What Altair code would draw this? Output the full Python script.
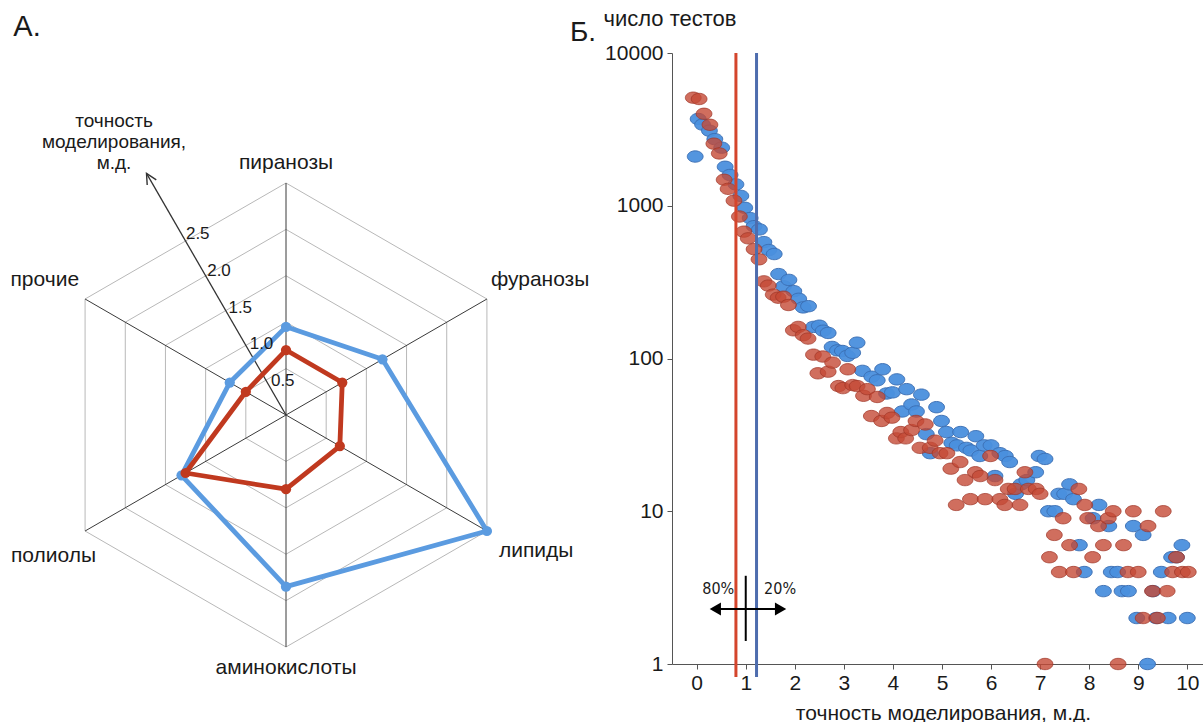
import math
import altair as alt
import pandas as pd

FONT = "Liberation Sans, Arial, sans-serif"
NARROW = "Liberation Sans Narrow, DejaVu Sans Condensed, Liberation Sans, sans-serif"
TEXT = "#1a1a1a"

# ---------------- panel A: radar of modelling accuracy ----------------
categories = ["пиранозы", "фуранозы", "липиды", "аминокислоты", "полиолы", "прочие"]
angles_deg = [90, 30, -30, -90, -150, 150]
blue_radar = [0.95, 1.2, 2.5, 1.85, 1.3, 0.7]
red_radar = [0.7, 0.7, 0.67, 0.8, 1.25, 0.5]
ring_levels = [0.5, 1.0, 1.5, 2.0, 2.5]
radial_labels = ["0.5", "1.0", "1.5", "2.0", "2.5"]
radial_axis_title = ["точность", "моделирования,", "м.д."]

# label placement around the outer ring: (align, dx px, dy px)
cat_label_style = [("center", 0, -20), ("left", 4, -19), ("left", 12, 20),
                   ("center", 0, 21), ("right", 11, 25), ("right", -6, -19)]

# ---------------- panel B: histogram of errors ----------------
blue_points = [
    (-0.03, 2100), (0.03, 3700), (0.12, 3400), (0.26, 3100), (0.37, 2730), (0.51, 2400),
    (0.58, 1800), (0.68, 1590), (0.80, 1380), (0.90, 1160), (0.98, 970), (1.09, 830),
    (1.17, 735), (1.28, 700), (1.37, 578), (1.47, 513), (1.58, 483), (1.67, 357),
    (1.77, 297), (1.88, 327), (1.98, 276), (2.08, 246), (2.17, 216), (2.28, 220),
    (2.38, 161), (2.50, 164), (2.58, 152), (2.68, 147), (2.76, 119), (2.87, 113),
    (2.97, 112), (3.07, 104), (3.18, 109), (3.27, 127), (3.38, 83), (3.57, 76),
    (3.68, 72), (3.79, 85), (3.87, 59), (3.99, 60), (4.08, 73), (4.19, 45),
    (4.28, 63), (4.38, 50), (4.48, 45), (4.58, 58), (4.68, 32), (4.76, 24),
    (4.89, 48), (4.99, 39), (5.09, 33), (5.20, 28), (5.31, 27), (5.38, 33),
    (5.50, 26), (5.59, 25), (5.69, 31), (5.77, 23), (5.86, 27), (6.00, 27),
    (6.08, 17), (6.18, 24), (6.29, 23), (6.38, 21), (6.50, 13), (6.61, 15),
    (6.73, 16), (6.91, 18), (6.98, 23), (7.10, 22), (7.17, 10), (7.30, 10),
    (7.38, 13), (7.50, 13), (7.60, 15), (7.68, 12), (7.80, 6), (7.90, 4),
    (8.08, 9), (8.20, 11), (8.29, 3), (8.40, 8), (8.45, 4), (8.58, 4),
    (8.67, 3), (8.80, 3), (8.90, 8), (8.97, 2), (9.10, 7), (9.19, 1),
    (9.30, 3), (9.37, 2), (9.47, 4), (9.61, 2), (9.68, 5), (9.78, 5),
    (9.89, 6), (10.00, 2),
]
red_points = [
    (-0.07, 5100), (0.05, 5000), (0.15, 4000), (0.27, 3390), (0.35, 2550), (0.46, 2200),
    (0.56, 1480), (0.64, 1290), (0.76, 1080), (0.87, 850), (0.96, 677), (1.05, 612),
    (1.17, 520), (1.27, 446), (1.37, 320), (1.46, 300), (1.56, 262), (1.66, 250),
    (1.77, 254), (1.87, 224), (1.97, 153), (2.07, 161), (2.17, 142), (2.27, 135),
    (2.38, 106), (2.47, 80), (2.57, 103), (2.68, 82), (2.77, 94), (2.89, 66),
    (2.98, 64), (3.08, 85), (3.18, 67), (3.27, 66), (3.40, 57), (3.48, 63),
    (3.56, 42), (3.68, 56), (3.77, 39), (3.88, 44), (3.98, 41), (4.07, 30),
    (4.16, 33), (4.26, 30), (4.38, 34), (4.47, 39), (4.55, 26), (4.66, 37),
    (4.76, 26), (4.86, 29), (4.96, 24), (5.10, 24), (5.18, 19), (5.29, 11),
    (5.37, 21), (5.47, 16), (5.58, 12), (5.68, 18), (5.78, 17), (5.88, 12),
    (5.99, 23), (6.08, 16), (6.18, 12), (6.28, 11), (6.35, 14), (6.49, 14),
    (6.59, 11), (6.69, 18), (6.76, 14), (6.92, 14), (7.00, 13), (7.10, 1),
    (7.19, 5), (7.29, 7), (7.39, 4), (7.47, 9), (7.60, 6), (7.68, 4),
    (7.79, 14), (7.91, 11), (7.97, 9), (8.07, 5), (8.19, 8), (8.29, 6),
    (8.39, 9), (8.49, 10), (8.59, 1), (8.70, 6), (8.79, 4), (8.90, 10),
    (9.00, 4), (9.10, 2), (9.20, 8), (9.29, 3), (9.39, 2), (9.51, 10),
    (9.59, 3), (9.70, 4), (9.78, 5), (9.90, 4), (10.02, 4),
]
x_ticks = list(range(0, 11))
y_ticks = [1, 10, 100, 1000, 10000]
threshold_red = 0.80
threshold_blue = 1.22
# 80 % / 20 % split marker
split_at = 1.0
split_span = (1.415, 3.78)
split_arrow = (0.25, 1.84)
split_arrow_level = 2.29
split_text = [("80%", 0.44), ("20%", 1.70)]
split_text_level = 3.1

# ---------------- layout ----------------
TOP = 53
PANEL_H = 611
LEFT_W = 574
RIGHT_W = 531
GAP = 98
PX_UNIT = 92.8          # radar: pixels per ppm
CX, CY = 286, 415       # radar centre inside the left panel (px, from panel's left / page top)

BLUE_R = "#5b9be0"
RED_R = "#c0391f"
BLUE_P = "#4a8fdd"
BLUE_PS = "#3b6db0"
RED_P = "#c44a36"
RED_PS = "#9e3526"


def polar(v, deg):
    a = math.radians(deg)
    return v * math.cos(a), v * math.sin(a)


xdom = [-CX / PX_UNIT, (LEFT_W - CX) / PX_UNIT]
ydom = [-(TOP + PANEL_H - CY) / PX_UNIT, (CY - TOP) / PX_UNIT]
X = alt.X("x:Q", scale=alt.Scale(domain=xdom, nice=False, zero=False), axis=None)
Y = alt.Y("y:Q", scale=alt.Scale(domain=ydom, nice=False, zero=False), axis=None)

ring_rows = []
for lvl in ring_levels:
    for k in range(7):
        px, py = polar(lvl, angles_deg[k % 6])
        ring_rows.append({"level": lvl, "k": k, "x": px, "y": py})
rings = pd.DataFrame(ring_rows)

spoke_rows = []
for deg in angles_deg:
    px, py = polar(ring_levels[-1], deg)
    spoke_rows.append({"x": 0.0, "y": 0.0, "x2": px, "y2": py})
spokes = pd.DataFrame(spoke_rows)

series_rows = []
for name, vals in (("blue", blue_radar), ("red", red_radar)):
    for k in range(7):
        i = k % 6
        px, py = polar(vals[i], angles_deg[i])
        series_rows.append({"series": name, "k": k, "cat": categories[i], "v": vals[i], "x": px, "y": py})
series = pd.DataFrame(series_rows)

AXIS_DEG = 120
AXIS_LEN = 3.0
ax_x, ax_y = polar(AXIS_LEN, AXIS_DEG)
head_x, head_y = polar(AXIS_LEN - 0.05, AXIS_DEG)
value_axis = pd.DataFrame({"x": [0.0], "y": [0.0], "x2": [ax_x], "y2": [ax_y]})
value_head = pd.DataFrame({"x": [head_x], "y": [head_y]})

tick_rows = []
for lvl, lab in zip(ring_levels, radial_labels):
    px, py = polar(lvl * 0.916, AXIS_DEG)
    tick_rows.append({"x": px, "y": py, "label": lab})
ticks = pd.DataFrame(tick_rows)

left_layers = [
    # keeps the page origin at the top-left corner
    alt.Chart(pd.DataFrame({"a": [0]})).mark_rule(strokeOpacity=0).encode(
        x=alt.value(0), x2=alt.value(2), y=alt.value(-TOP), y2=alt.value(-TOP + 2)),
    alt.Chart(rings).mark_line(color="#b8b8b8", strokeWidth=1).encode(X, Y, detail="level:N", order="k:Q"),
    alt.Chart(spokes).mark_rule(color="#3a3a3a", strokeWidth=1).encode(X, Y, x2="x2:Q", y2="y2:Q"),
    alt.Chart(value_axis).mark_rule(color="#333333", strokeWidth=1.3).encode(X, Y, x2="x2:Q", y2="y2:Q"),
    alt.Chart(value_head).mark_point(shape="M-1,1L0,-1L1,1", filled=False, size=110, angle=330,
                                     color="#333333", strokeWidth=1.4, opacity=1).encode(X, Y),
]
for name, col in (("blue", BLUE_R), ("red", RED_R)):
    src = alt.Chart(series).transform_filter(alt.datum.series == name)
    left_layers.append(src.mark_line(color=col, strokeWidth=4.8, strokeJoin="round").encode(X, Y, order="k:Q"))
    left_layers.append(src.transform_filter(alt.datum.k < 6).mark_circle(color=col, size=105, opacity=1).encode(X, Y))

left_layers.append(
    alt.Chart(ticks).mark_text(font=FONT, fontSize=17, color=TEXT, dx=18, dy=3, align="center",
                               baseline="middle").encode(X, Y, text="label:N"))

for i, (cat, (align, dx, dy)) in enumerate(zip(categories, cat_label_style)):
    px, py = polar(ring_levels[-1], angles_deg[i])
    left_layers.append(
        alt.Chart(pd.DataFrame({"x": [px], "y": [py], "t": [cat]})).mark_text(
            font=FONT, fontSize=21, color=TEXT, align=align, baseline="middle", dx=dx, dy=dy
        ).encode(X, Y, text="t:N"))

left_layers.append(
    alt.Chart(pd.DataFrame({"a": [0]})).mark_text(
        text=radial_axis_title, font=FONT, fontSize=19, lineHeight=21, color=TEXT,
        align="center", baseline="top").encode(x=alt.value(114), y=alt.value(112 - TOP)))
left_layers.append(
    alt.Chart(pd.DataFrame({"a": [0]})).mark_text(
        text="А.", font=FONT, fontSize=29, color=TEXT, align="center", baseline="middle"
    ).encode(x=alt.value(27), y=alt.value(27 - TOP)))

left = alt.layer(*left_layers).properties(width=LEFT_W, height=PANEL_H)

# ---------------- panel B ----------------
xs = alt.Scale(domain=[-0.503, 10.32], nice=False, zero=False)
ys = alt.Scale(type="log", domain=[1, 10000], nice=False)
XB = alt.X("err:Q", scale=xs, axis=alt.Axis(
    values=x_ticks, title="точность моделирования, м.д.", grid=False, tickSize=5,
    tickColor="#555555", domainColor="#555555", labelFont=FONT, labelFontSize=21,
    labelColor=TEXT, labelPadding=3, labelFlush=False, titleFont=FONT, titleFontSize=21,
    titleFontWeight="normal", titleColor=TEXT, titleX=271, titleY=49,
    titleBaseline="middle", titleAlign="center"))
YB = alt.Y("n:Q", scale=ys, axis=alt.Axis(
    values=y_ticks, format="d", title="число тестов", grid=False, tickSize=5,
    tickColor="#555555", domainColor="#555555", labelFont=FONT, labelFontSize=21,
    labelColor=TEXT, labelPadding=4, labelFlush=False, titleFont=FONT, titleFontSize=22,
    titleFontWeight="normal", titleColor=TEXT, titleAngle=0, titleAlign="left",
    titleBaseline="middle", titleX=-69, titleY=-35))

ELLIPSE = "M-1,0A1,0.72,0,1,1,1,0A1,0.72,0,1,1,-1,0Z"
blue_df = pd.DataFrame(blue_points, columns=["err", "n"])
red_df = pd.DataFrame(red_points, columns=["err", "n"])

arrow_df = pd.DataFrame({"err": [split_arrow[0] + 0.13], "err2": [split_arrow[1] - 0.13],
                         "n": [split_arrow_level]})
head_l = pd.DataFrame({"err": [split_arrow[0] + 0.13], "n": [split_arrow_level]})
head_r = pd.DataFrame({"err": [split_arrow[1] - 0.13], "n": [split_arrow_level]})
split_df = pd.DataFrame({"err": [split_at], "n": [split_span[0]], "n2": [split_span[1]]})
split_txt = pd.DataFrame({"err": [p for _, p in split_text], "n": [split_text_level] * 2,
                          "t": [t for t, _ in split_text]})

right_layers = [
    alt.Chart(blue_df).mark_point(shape=ELLIPSE, filled=True, size=250, fill=BLUE_P, stroke=BLUE_PS,
                                  strokeWidth=1, fillOpacity=0.95, strokeOpacity=0.9).encode(XB, YB),
    alt.Chart(red_df).mark_point(shape=ELLIPSE, filled=True, size=250, fill=RED_P, stroke=RED_PS,
                                 strokeWidth=1, fillOpacity=0.8, strokeOpacity=0.7).encode(XB, YB),
    alt.Chart(pd.DataFrame({"err": [threshold_red]})).mark_rule(color="#d4452c", strokeWidth=3).encode(
        x="err:Q", y=alt.value(0), y2=alt.value(677 - TOP)),
    alt.Chart(pd.DataFrame({"err": [threshold_blue]})).mark_rule(color="#4e6dae", strokeWidth=3).encode(
        x="err:Q", y=alt.value(0), y2=alt.value(677 - TOP)),
    alt.Chart(arrow_df).mark_rule(color="black", strokeWidth=2).encode(
        x=alt.X("err:Q", scale=xs), x2="err2:Q", y=alt.Y("n:Q", scale=ys)),
    alt.Chart(head_l).mark_point(shape="triangle-left", filled=True, size=170, color="black",
                                 opacity=1).encode(x=alt.X("err:Q", scale=xs), y=alt.Y("n:Q", scale=ys)),
    alt.Chart(head_r).mark_point(shape="triangle-right", filled=True, size=170, color="black",
                                 opacity=1).encode(x=alt.X("err:Q", scale=xs), y=alt.Y("n:Q", scale=ys)),
    alt.Chart(split_df).mark_rule(color="black", strokeWidth=2).encode(
        x=alt.X("err:Q", scale=xs), y=alt.Y("n:Q", scale=ys), y2="n2:Q"),
    alt.Chart(split_txt).mark_text(font=NARROW, fontSize=16, color=TEXT, align="center",
                                   baseline="middle").encode(
        x=alt.X("err:Q", scale=xs), y=alt.Y("n:Q", scale=ys), text="t:N"),
    alt.Chart(pd.DataFrame({"a": [0]})).mark_text(
        text="Б.", font=FONT, fontSize=28, color=TEXT, align="center", baseline="middle"
    ).encode(x=alt.value(583 - 672), y=alt.value(33 - TOP)),
]
right = alt.layer(*right_layers).properties(width=RIGHT_W, height=PANEL_H)

chart = (
    alt.hconcat(left, right, spacing=GAP, bounds="flush")
    .configure_view(stroke=None)
    .properties(padding=0, background="white")
)
chart.save("out.html", embed_options={"renderer": "svg", "actions": False})
